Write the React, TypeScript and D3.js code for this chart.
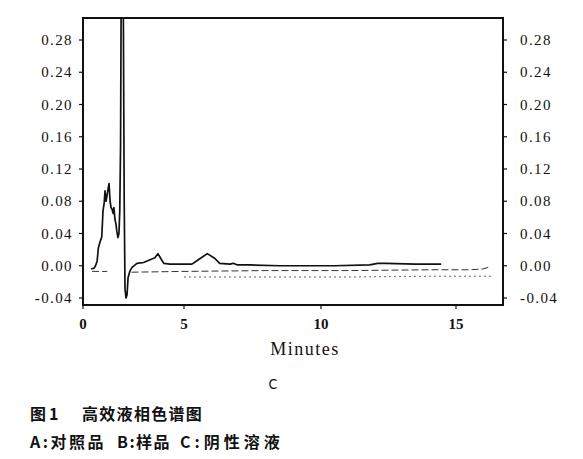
import React from "react";
import * as d3 from "d3";

// Trace A (sample chromatogram, solid)
const timesA = [0.40, 0.55, 0.62, 0.70, 0.76, 0.85, 0.93, 0.99, 1.05, 1.09, 1.14, 1.19, 1.24, 1.29, 1.34, 1.39, 1.44, 1.49, 1.53, 1.58, 1.63, 1.68, 1.73, 1.78, 1.82, 1.86, 1.90, 1.95, 2.00, 2.04, 2.08, 2.13, 2.18, 2.23, 2.33, 2.43, 2.67, 3.0, 3.32, 3.56, 3.71, 3.85, 4.0, 4.3, 4.8, 5.29, 5.55, 5.85, 6.13, 6.3, 6.68, 6.8, 6.95, 7.4, 8.5, 9.3, 10.5, 11.8, 12.1, 12.4, 13.5, 14.45];
const valuesA = [-0.004, -0.003, 0.0, 0.006, 0.022, 0.030, 0.036, 0.068, 0.078, 0.093, 0.080, 0.087, 0.095, 0.102, 0.080, 0.072, 0.070, 0.065, 0.072, 0.058, 0.052, 0.042, 0.035, 0.040, 0.068, 0.15, 0.40, 0.45, 0.30, 0.08, -0.029, -0.040, -0.036, -0.015, -0.006, -0.002, 0.003, 0.004, 0.0075, 0.010, 0.015, 0.009, 0.003, 0.002, 0.002, 0.002, 0.008, 0.015, 0.009, 0.003, 0.002, 0.003, 0.001, 0.001, 0.0, 0.0, 0.0, 0.001, 0.003, 0.003, 0.002, 0.002];

// Trace B (dashed baseline), null = gap
const timesB = [0.45, 1.2, 1.3, 2.4, 5.0, 8.0, 11.0, 14.0, 15.5, 16.0, 16.2];
const valuesB: (number | null)[] = [-0.007, -0.007, null, -0.008, -0.007, -0.006, -0.006, -0.005, -0.005, -0.004, -0.002];

// Trace C (dotted baseline)
const timesC = [5.0, 8.0, 11.0, 14.0, 16.4];
const valuesC = [-0.014, -0.014, -0.014, -0.013, -0.013];

const yTickValues = [-0.04, 0.0, 0.04, 0.08, 0.12, 0.16, 0.2, 0.24, 0.28];
const xTickValues = [0, 5, 10, 15];
const xTitle = "Minutes";
const panelLabel = "C";
const figNumber = "图1";
const figTitle = "高效液相色谱图";
const legendItems = ["A:对照品", "B:样品", "C:阴性溶液"];

export default function App() {
  const W = 583, H = 459;
  const left = 83, right = 503, top = 18, bottom = 305;
  const x = d3.scaleLinear().domain([0, 5, 10, 15, 16.75]).range([left, 184, 321, 456, right]);
  const y = d3.scaleLinear().domain([-0.04, 0.28]).range([298, 40]);
  const fmt = (v: number) => d3.format(".2f")(v).replace("−", "-");

  const lineA = d3.line<number>().x((_, i) => x(timesA[i])).y((v) => y(v));
  const lineB = d3.line<number | null>().defined((v) => v !== null).x((_, i) => x(timesB[i])).y((v) => y(v as number));
  const lineC = d3.line<number>().x((_, i) => x(timesC[i])).y((v) => y(v));

  const serif = "'Liberation Serif', 'DejaVu Serif', serif";
  const cjk = "'Noto Sans CJK SC', sans-serif";
  const legendX = [30, 117, 180];
  const legendLS = [2.5, 1.5, 4];
  return (
    <svg width={W} height={H} style={{ position: "absolute", left: 0, top: 0, background: "#fff" }}>
      <defs>
        <clipPath id="plot">
          <rect x={left} y={top} width={right - left} height={bottom - top} />
        </clipPath>
      </defs>
      <g clipPath="url(#plot)">
        <path d={lineC(valuesC) || ""} fill="none" stroke="#555" strokeWidth={0.9} strokeDasharray="2,3" />
        <path d={lineB(valuesB) || ""} fill="none" stroke="#333" strokeWidth={1} strokeDasharray="7,3" />
        <path d={lineA(valuesA) || ""} fill="none" stroke="#111" strokeWidth={1.7} strokeLinejoin="round" />
      </g>
      <rect x={left} y={top} width={right - left} height={bottom - top} fill="none" stroke="#111" strokeWidth={2} />
      {yTickValues.map((v) => (
        <g key={"y" + v}>
          <line x1={left - 4} x2={left} y1={y(v)} y2={y(v)} stroke="#111" strokeWidth={1.2} />
          <line x1={right} x2={right + 4} y1={y(v)} y2={y(v)} stroke="#111" strokeWidth={1.2} />
          <text x={73} y={y(v) + 5} textAnchor="end" style={{ fontFamily: serif, fontSize: 15, letterSpacing: 1.4 }} fill="#111">{fmt(v)}</text>
          <text x={520} y={y(v) + 5} textAnchor="start" style={{ fontFamily: serif, fontSize: 15, letterSpacing: 1.4 }} fill="#111">{fmt(v)}</text>
        </g>
      ))}
      {xTickValues.map((v) => (
        <g key={"x" + v}>
          <line x1={x(v)} x2={x(v)} y1={bottom} y2={bottom + 4} stroke="#111" strokeWidth={1.2} />
          <text x={x(v)} y={329} textAnchor="middle" style={{ fontFamily: serif, fontSize: 15, fontWeight: "bold" }} fill="#111">{v}</text>
        </g>
      ))}
      <text x={305} y={355} textAnchor="middle" style={{ fontFamily: serif, fontSize: 18, letterSpacing: 1.5 }} fill="#111">{xTitle}</text>
      <text x={273} y={389} textAnchor="middle" style={{ fontFamily: "'DejaVu Sans Condensed', 'DejaVu Sans', sans-serif", fontSize: 14 }} fill="#111">{panelLabel}</text>
      <text y={420} style={{ fontFamily: cjk, fontSize: 16, fontWeight: "bold" }} fill="#111">
        <tspan x={30} letterSpacing={3}>{figNumber}</tspan>
        <tspan x={82} letterSpacing={1.3}>{figTitle}</tspan>
      </text>
      <text y={448} style={{ fontFamily: cjk, fontSize: 16, fontWeight: "bold" }} fill="#111">
        {legendItems.map((s, i) => (
          <tspan key={s} x={legendX[i]} letterSpacing={legendLS[i]}>{s}</tspan>
        ))}
      </text>
    </svg>
  );
}
